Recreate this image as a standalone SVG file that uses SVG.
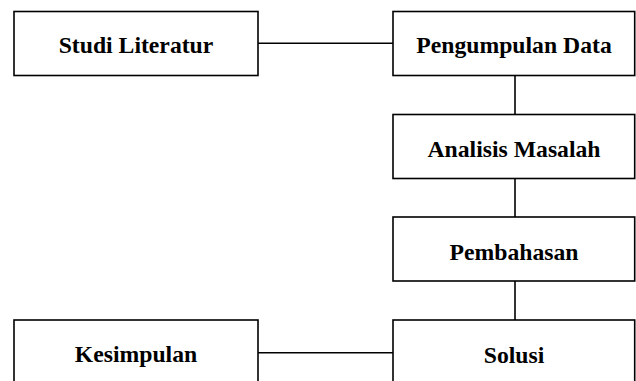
<svg xmlns="http://www.w3.org/2000/svg" width="636" height="381" viewBox="0 0 636 381">
<style>
.box{fill:#fff;stroke:#000;stroke-width:1.6}
.lbl{font-family:"Liberation Serif","Times New Roman",serif;font-weight:bold;font-size:23.7px;fill:#000;text-anchor:middle}
.conn{stroke:#000;stroke-width:1.6;fill:none}
</style>
<rect width="636" height="381" fill="#fff"/>
<g id="connectors">
<line class="conn" x1="258" y1="43.3" x2="393" y2="43.3"/>
<line class="conn" x1="515" y1="75.5" x2="515" y2="114.5"/>
<line class="conn" x1="515" y1="178.5" x2="515" y2="217"/>
<line class="conn" x1="515" y1="281" x2="515" y2="320"/>
<line class="conn" x1="258" y1="352.7" x2="393" y2="352.7"/>
</g>
<g id="studi-literatur">
<rect class="box" x="14" y="11.5" width="244" height="64"/>
<text class="lbl" x="136" y="53.3">Studi Literatur</text>
</g>
<g id="pengumpulan-data">
<rect class="box" x="393" y="11.5" width="241.7" height="64"/>
<text class="lbl" x="514" y="53.3">Pengumpulan Data</text>
</g>
<g id="analisis-masalah">
<rect class="box" x="393" y="114.5" width="241.7" height="64"/>
<text class="lbl" x="514" y="156.7">Analisis Masalah</text>
</g>
<g id="pembahasan">
<rect class="box" x="393" y="217" width="241.7" height="64"/>
<text class="lbl" x="514" y="260">Pembahasan</text>
</g>
<g id="solusi">
<rect class="box" x="393" y="320" width="241.7" height="80"/>
<text class="lbl" x="514" y="363">Solusi</text>
</g>
<g id="kesimpulan">
<rect class="box" x="14" y="320" width="244" height="80"/>
<text class="lbl" x="136" y="362">Kesimpulan</text>
</g>
</svg>
